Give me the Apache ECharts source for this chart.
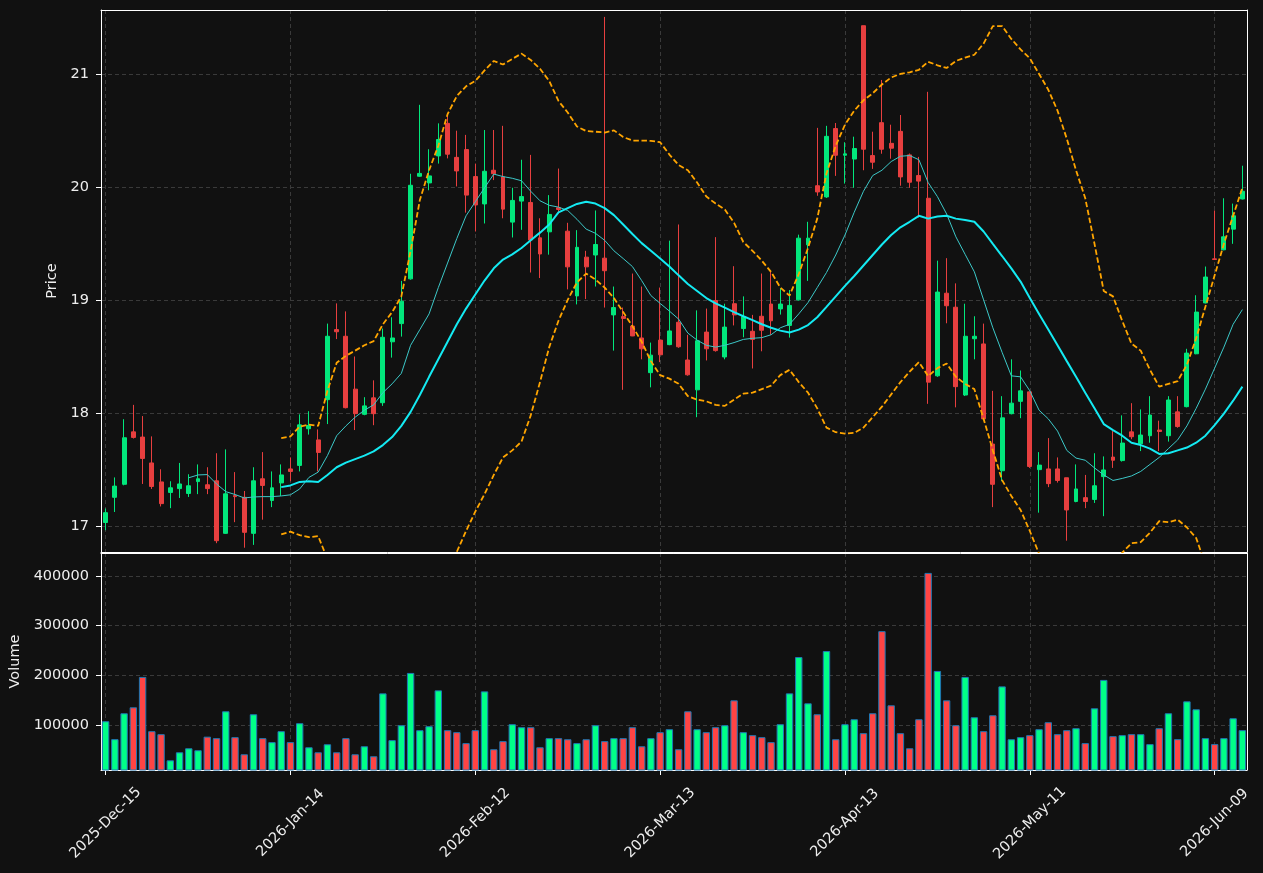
<!DOCTYPE html>
<html>
<head>
<meta charset="utf-8">
<script src="https://cdn.jsdelivr.net/npm/echarts@6/dist/echarts.min.js"></script>
<style>
html, body { margin: 0; padding: 0; background: #111111; }
#chart { width: 1263px; height: 873px; }
</style>
</head>
<body>
<div id="chart"></div>
<script>
// trading days shown on the category axis
const dates = [
	'2025-Dec-15', '2025-Dec-16', '2025-Dec-17', '2025-Dec-18', '2025-Dec-19', '2025-Dec-22', '2025-Dec-23', '2025-Dec-24',
	'2025-Dec-26', '2025-Dec-29', '2025-Dec-30', '2025-Dec-31', '2026-Jan-02', '2026-Jan-05', '2026-Jan-06', '2026-Jan-07',
	'2026-Jan-08', '2026-Jan-09', '2026-Jan-12', '2026-Jan-13', '2026-Jan-14', '2026-Jan-15', '2026-Jan-16', '2026-Jan-20',
	'2026-Jan-21', '2026-Jan-22', '2026-Jan-23', '2026-Jan-26', '2026-Jan-27', '2026-Jan-28', '2026-Jan-29', '2026-Jan-30',
	'2026-Feb-02', '2026-Feb-03', '2026-Feb-04', '2026-Feb-05', '2026-Feb-06', '2026-Feb-09', '2026-Feb-10', '2026-Feb-11',
	'2026-Feb-12', '2026-Feb-13', '2026-Feb-17', '2026-Feb-18', '2026-Feb-19', '2026-Feb-20', '2026-Feb-23', '2026-Feb-24',
	'2026-Feb-25', '2026-Feb-26', '2026-Feb-27', '2026-Mar-02', '2026-Mar-03', '2026-Mar-04', '2026-Mar-05', '2026-Mar-06',
	'2026-Mar-09', '2026-Mar-10', '2026-Mar-11', '2026-Mar-12', '2026-Mar-13', '2026-Mar-16', '2026-Mar-17', '2026-Mar-18',
	'2026-Mar-19', '2026-Mar-20', '2026-Mar-23', '2026-Mar-24', '2026-Mar-25', '2026-Mar-26', '2026-Mar-27', '2026-Mar-30',
	'2026-Mar-31', '2026-Apr-01', '2026-Apr-02', '2026-Apr-06', '2026-Apr-07', '2026-Apr-08', '2026-Apr-09', '2026-Apr-10',
	'2026-Apr-13', '2026-Apr-14', '2026-Apr-15', '2026-Apr-16', '2026-Apr-17', '2026-Apr-20', '2026-Apr-21', '2026-Apr-22',
	'2026-Apr-23', '2026-Apr-24', '2026-Apr-27', '2026-Apr-28', '2026-Apr-29', '2026-Apr-30', '2026-May-01', '2026-May-04',
	'2026-May-05', '2026-May-06', '2026-May-07', '2026-May-08', '2026-May-11', '2026-May-12', '2026-May-13', '2026-May-14',
	'2026-May-15', '2026-May-18', '2026-May-19', '2026-May-20', '2026-May-21', '2026-May-22', '2026-May-26', '2026-May-27',
	'2026-May-28', '2026-May-29', '2026-Jun-01', '2026-Jun-02', '2026-Jun-03', '2026-Jun-04', '2026-Jun-05', '2026-Jun-08',
	'2026-Jun-09', '2026-Jun-10', '2026-Jun-11', '2026-Jun-12'
]

const opens = [
	17.031, 17.254, 17.369, 17.833, 17.787, 17.558, 17.390, 17.297, 17.331, 17.288,
	17.393, 17.365, 17.400, 16.935, 17.269, 17.254, 16.935, 17.418, 17.226, 17.381,
	17.505, 17.536, 17.861, 17.762, 18.118, 18.738, 18.679, 18.211, 17.988, 18.134,
	18.091, 18.630, 18.791, 19.187, 20.095, 20.036, 20.275, 20.563, 20.262, 20.331,
	20.092, 19.850, 20.148, 20.089, 19.689, 19.875, 19.863, 19.550, 19.603, 19.816,
	19.609, 19.036, 19.379, 19.398, 19.370, 18.868, 18.853, 18.769, 18.664, 18.357,
	18.645, 18.605, 18.803, 18.469, 18.205, 18.716, 18.995, 18.496, 18.967, 18.747,
	18.723, 18.856, 18.964, 18.921, 18.775, 19.001, 19.488, 20.011, 19.912, 20.517,
	20.281, 20.247, 21.427, 20.278, 20.569, 20.386, 20.492, 20.284, 20.101, 19.900,
	18.329, 19.060, 18.936, 18.159, 18.657, 18.611, 17.725, 17.489, 17.994, 18.103,
	18.187, 17.499, 17.505, 17.505, 17.427, 17.217, 17.251, 17.235, 17.437, 17.610,
	17.579, 17.833, 17.728, 17.799, 17.849, 17.799, 18.010, 18.056, 18.524, 18.974,
	19.364, 19.444, 19.627, 19.894
]

const closes = [
	17.118, 17.353, 17.781, 17.784, 17.598, 17.350, 17.198, 17.338, 17.372, 17.356,
	17.418, 17.331, 16.870, 17.285, 17.260, 16.944, 17.400, 17.359, 17.338, 17.452,
	17.483, 17.895, 17.889, 17.651, 18.679, 18.719, 18.047, 17.994, 18.063, 17.994,
	18.670, 18.664, 18.989, 20.015, 20.120, 20.098, 20.420, 20.290, 20.142, 19.928,
	19.841, 20.139, 20.117, 19.804, 19.881, 19.915, 19.531, 19.407, 19.757, 19.801,
	19.293, 19.466, 19.293, 19.491, 19.259, 18.933, 18.837, 18.682, 18.568, 18.512,
	18.515, 18.726, 18.586, 18.338, 18.639, 18.568, 18.552, 18.760, 18.868, 18.853,
	18.651, 18.732, 18.816, 18.964, 18.952, 19.547, 19.547, 19.956, 20.448, 20.281,
	20.293, 20.340, 20.334, 20.219, 20.334, 20.343, 20.089, 20.042, 20.052, 18.273,
	19.070, 18.949, 18.233, 18.679, 18.679, 17.948, 17.369, 17.957, 18.087, 18.196,
	17.527, 17.539, 17.375, 17.403, 17.142, 17.328, 17.217, 17.356, 17.496, 17.582,
	17.734, 17.790, 17.805, 17.982, 17.836, 18.115, 17.880, 18.530, 18.893, 19.203,
	19.358, 19.559, 19.745, 19.962
]

const highs = [
	17.155, 17.430, 17.945, 18.072, 17.973, 17.793, 17.502, 17.396, 17.558, 17.458,
	17.545, 17.520, 17.644, 17.678, 17.477, 17.310, 17.520, 17.654, 17.483, 17.545,
	17.607, 17.988, 18.016, 17.855, 18.791, 18.970, 18.899, 18.500, 18.140, 18.289,
	18.747, 18.847, 19.169, 20.117, 20.727, 20.334, 20.563, 20.634, 20.498, 20.461,
	20.207, 20.504, 20.504, 20.541, 19.993, 20.241, 20.284, 19.723, 19.928, 20.163,
	19.683, 19.618, 19.435, 19.792, 21.505, 19.119, 18.933, 19.234, 19.119, 18.623,
	19.110, 19.525, 19.668, 18.692, 18.908, 18.924, 19.556, 18.967, 19.299, 19.032,
	18.868, 19.234, 19.249, 19.104, 19.088, 19.578, 19.692, 20.523, 20.541, 20.566,
	20.396, 20.445, 21.427, 20.489, 20.947, 20.551, 20.637, 20.296, 20.266, 20.842,
	19.348, 19.370, 19.147, 18.967, 18.856, 18.791, 18.196, 18.149, 18.475, 18.376,
	18.187, 17.654, 17.778, 17.607, 17.427, 17.545, 17.452, 17.644, 17.616, 17.840,
	17.979, 18.087, 18.032, 18.149, 17.932, 18.149, 18.149, 18.568, 19.042, 19.296,
	19.792, 19.900, 19.853, 20.188
]

const lows = [
	16.963, 17.124, 17.360, 17.774, 17.372, 17.328, 17.173, 17.158, 17.248, 17.257,
	17.282, 17.282, 16.848, 16.930, 17.034, 16.808, 16.833, 17.056, 17.167, 17.266,
	17.396, 17.483, 17.809, 17.483, 17.902, 18.654, 18.041, 17.849, 17.980, 17.892,
	18.063, 18.490, 18.676, 19.180, 20.090, 19.971, 20.207, 20.253, 20.005, 19.773,
	19.606, 19.677, 20.061, 19.723, 19.553, 19.621, 19.243, 19.194, 19.401, 19.776,
	19.094, 18.961, 19.008, 19.119, 18.933, 18.552, 18.205, 18.680, 18.475, 18.227,
	18.450, 18.600, 18.577, 18.330, 17.963, 18.465, 18.543, 18.475, 18.775, 18.670,
	18.394, 18.546, 18.692, 18.871, 18.667, 18.995, 19.169, 19.922, 19.903, 20.098,
	20.030, 19.993, 20.148, 20.160, 20.294, 20.250, 20.011, 19.993, 19.730, 18.081,
	18.320, 18.794, 18.050, 18.150, 18.475, 17.940, 17.167, 17.396, 17.988, 17.954,
	17.514, 17.118, 17.344, 17.384, 16.870, 17.210, 17.158, 17.204, 17.087, 17.514,
	17.570, 17.768, 17.663, 17.737, 17.663, 17.747, 17.870, 18.050, 18.520, 18.970,
	19.355, 19.440, 19.497, 19.890
]

const volumes = [
	108000, 72000, 124000, 136000, 197000, 88000, 82000, 29500, 45600, 53700,
	49700, 77000, 74000, 128000, 76000, 41600, 122000, 74000, 66000, 88000,
	66000, 104000, 55700, 45600, 61700, 45600, 74000, 41600, 57700, 37600,
	164000, 70000, 100000, 205000, 90000, 98000, 170000, 90000, 86000, 64000,
	90000, 168000, 51700, 68000, 102000, 96000, 96000, 55700, 74000, 74000,
	71800, 64000, 71800, 100000, 68000, 74000, 74000, 96000, 57700, 74000,
	86000, 92000, 51700, 128000, 92000, 86000, 96000, 100000, 150000, 86000,
	80000, 76000, 66000, 102000, 164000, 237000, 144000, 122000, 249000, 71800,
	102000, 112000, 84000, 124000, 289000, 140000, 84000, 53700, 112000, 406000,
	209000, 150000, 100000, 197000, 116000, 88000, 120000, 178000, 71800, 76000,
	80000, 92000, 106000, 82000, 90000, 94000, 64000, 134000, 191000, 78000,
	80000, 82000, 82000, 62000, 94000, 124000, 72000, 148000, 132000, 74000,
	62000, 74000, 114000, 90000
]

// 10-day average, first value on day 10
const ma10 = [
	17.427, 17.452, 17.455, 17.372, 17.304, 17.279, 17.248, 17.257, 17.260, 17.260,
	17.266, 17.276, 17.328, 17.430, 17.477, 17.623, 17.799, 17.886, 17.963, 18.025,
	18.072, 18.180, 18.258, 18.351, 18.599, 18.738, 18.877, 19.110, 19.327, 19.544,
	19.745, 19.869, 19.993, 20.114, 20.092, 20.077, 20.055, 19.962, 19.878, 19.838,
	19.822, 19.792, 19.714, 19.627, 19.590, 19.528, 19.435, 19.367, 19.296, 19.172,
	19.039, 18.970, 18.902, 18.831, 18.707, 18.645, 18.599, 18.583, 18.599, 18.623,
	18.651, 18.661, 18.667, 18.692, 18.754, 18.785, 18.877, 18.977, 19.110, 19.243,
	19.398, 19.575, 19.776, 19.962, 20.101, 20.148, 20.225, 20.272, 20.278, 20.241,
	20.039, 19.915, 19.761, 19.559, 19.404, 19.249, 19.001, 18.754, 18.537, 18.329,
	18.320, 18.196, 18.025, 17.948, 17.840, 17.669, 17.601, 17.582, 17.514, 17.452,
	17.403, 17.421, 17.443, 17.483, 17.545, 17.607, 17.685, 17.762, 17.886, 18.041,
	18.211, 18.397, 18.583, 18.785, 18.915
]

// 20-day average and its bands, first value on day 20
const ma20 = [
	17.344, 17.359, 17.390, 17.396, 17.390, 17.452, 17.520, 17.561, 17.592, 17.623,
	17.660, 17.716, 17.787, 17.886, 18.010, 18.159, 18.320, 18.475, 18.630, 18.785,
	18.924, 19.048, 19.172, 19.280, 19.358, 19.404, 19.460, 19.528, 19.596, 19.668,
	19.776, 19.813, 19.850, 19.869, 19.853, 19.813, 19.751, 19.668, 19.584, 19.503,
	19.435, 19.367, 19.296, 19.218, 19.141, 19.079, 19.017, 18.970, 18.933, 18.893,
	18.856, 18.822, 18.785, 18.754, 18.729, 18.713, 18.738, 18.778, 18.847, 18.939,
	19.032, 19.125, 19.212, 19.305, 19.398, 19.491, 19.575, 19.643, 19.692, 19.745,
	19.720, 19.739, 19.745, 19.720, 19.708, 19.692, 19.606, 19.497, 19.389, 19.280,
	19.163, 19.017, 18.877, 18.738, 18.599, 18.459, 18.320, 18.180, 18.041, 17.902,
	17.849, 17.799, 17.737, 17.716, 17.685, 17.638, 17.644, 17.669, 17.694, 17.737,
	17.799, 17.892, 17.994, 18.109, 18.233
]

const bandUpper = [
	17.778, 17.793, 17.880, 17.898, 17.886, 18.196, 18.444, 18.506, 18.552, 18.599,
	18.636, 18.785, 18.893, 19.032, 19.435, 19.884, 20.148, 20.365, 20.644, 20.805,
	20.891, 20.938, 21.031, 21.115, 21.084, 21.133, 21.180, 21.124, 21.046, 20.938,
	20.761, 20.659, 20.535, 20.495, 20.489, 20.482, 20.501, 20.442, 20.411, 20.411,
	20.408, 20.396, 20.287, 20.194, 20.148, 20.039, 19.915, 19.853, 19.801, 19.683,
	19.513, 19.435, 19.348, 19.249, 19.110, 19.039, 19.230, 19.460, 19.720, 20.120,
	20.365, 20.551, 20.675, 20.767, 20.829, 20.907, 20.969, 21.000, 21.015, 21.037,
	21.108, 21.077, 21.053, 21.115, 21.145, 21.170, 21.269, 21.424, 21.424, 21.310,
	21.217, 21.139, 21.000, 20.860, 20.675, 20.427, 20.148, 19.900, 19.497, 19.079,
	19.032, 18.815, 18.614, 18.552, 18.382, 18.233, 18.258, 18.283, 18.428, 18.661,
	18.940, 19.218, 19.497, 19.745, 19.993
]

const bandLower = [
	16.926, 16.950, 16.919, 16.901, 16.910, 16.709, 16.597, 16.616, 16.631, 16.647,
	16.684, 16.647, 16.681, 16.740, 16.585, 16.433, 16.492, 16.585, 16.616, 16.771,
	16.956, 17.127, 17.282, 17.452, 17.607, 17.669, 17.747, 17.979, 18.273, 18.583,
	18.816, 19.001, 19.156, 19.234, 19.181, 19.110, 19.017, 18.893, 18.769, 18.630,
	18.459, 18.335, 18.304, 18.258, 18.149, 18.118, 18.103, 18.072, 18.063, 18.118,
	18.171, 18.180, 18.211, 18.242, 18.335, 18.382, 18.273, 18.180, 18.041, 17.871,
	17.830, 17.818, 17.824, 17.871, 17.963, 18.056, 18.165, 18.273, 18.366, 18.450,
	18.326, 18.397, 18.438, 18.320, 18.258, 18.211, 17.948, 17.669, 17.406, 17.266,
	17.142, 16.956, 16.755, 16.616, 16.523, 16.492, 16.492, 16.461, 16.585, 16.724,
	16.665, 16.764, 16.848, 16.857, 16.941, 17.043, 17.034, 17.056, 16.987, 16.894,
	16.659, 16.566, 16.492, 16.473, 16.473
]

const priceTicks = [17, 18, 19, 20, 21]
const volumeTicks = [100000, 200000, 300000, 400000]
const priceRange = [16.77, 21.566]
const volumeRange = [10000, 446000]

const upColor = '#00ff88'
const downColor = '#ff4444'
const textColor = '#eeeeee'
const frame = { show: true, onZero: false, lineStyle: { color: '#ffffff', width: 1 } }
const gridLine = { color: '#3a3a3a', width: 1, type: [4, 3] }
const fontFamily = 'DejaVu Sans'

function pad(values, count) {
	return new Array(count).fill('-').concat(values)
}

// plain axis used only to draw the top / right edge of a panel
function edgeX(gridIndex) {
	return {
		type: 'category', gridIndex: gridIndex, data: dates, position: 'top',
		axisLine: frame, axisTick: { show: false }, axisLabel: { show: false }, splitLine: { show: false }
	}
}
function edgeY(gridIndex, range) {
	return {
		type: 'value', gridIndex: gridIndex, min: range[0], max: range[1], position: 'right',
		axisLine: frame, axisTick: { show: false }, axisLabel: { show: false }, splitLine: { show: false }
	}
}

const candles = dates.map((d, i) => [opens[i], closes[i], lows[i], highs[i]])
const volumeBars = volumes.map((v, i) => ({
	value: v,
	itemStyle: { color: closes[i] >= opens[i] ? upColor : downColor }
}))

const chart = echarts.init(document.getElementById('chart'))

chart.setOption({
	animation: false,
	backgroundColor: '#111111',
	textStyle: { fontFamily: fontFamily },
	grid: [
		{ left: 101, width: 1146, top: 10, height: 542, outerBoundsMode: 'none', containLabel: false },
		{ left: 101, width: 1146, top: 553, height: 217, outerBoundsMode: 'none', containLabel: false }
	],
	xAxis: [
		{
			type: 'category', gridIndex: 0, data: dates, boundaryGap: true,
			axisLine: frame, axisTick: { show: false }, axisLabel: { show: false },
			splitLine: { show: true, interval: 19, alignWithLabel: true, lineStyle: gridLine }
		},
		{
			type: 'category', gridIndex: 1, data: dates, boundaryGap: true,
			axisLine: frame,
			axisTick: { show: true, interval: 19, alignWithLabel: true, length: 5, lineStyle: { color: '#ffffff' } },
			axisLabel: {
				interval: 19, rotate: 45, align: 'center', verticalAlign: 'middle', margin: 53,
				color: textColor, fontSize: 14.5, fontFamily: fontFamily
			},
			splitLine: { show: true, interval: 19, alignWithLabel: true, lineStyle: gridLine }
		},
		edgeX(0),
		edgeX(1)
	],
	yAxis: [
		{
			type: 'value', gridIndex: 0, min: priceRange[0], max: priceRange[1],
			name: 'Price', nameLocation: 'middle', nameGap: 31, nameRotate: 90,
			nameTextStyle: { color: textColor, fontSize: 14.5, fontFamily: fontFamily },
			axisLine: frame,
			axisTick: { show: true, length: 5, lineStyle: { color: '#ffffff' }, customValues: priceTicks },
			axisLabel: { color: textColor, fontSize: 14.5, margin: 12, customValues: priceTicks },
			splitLine: { show: true, lineStyle: gridLine }
		},
		{
			type: 'value', gridIndex: 1, min: volumeRange[0], max: volumeRange[1],
			name: 'Volume', nameLocation: 'middle', nameGap: 72, nameRotate: 90,
			nameTextStyle: { color: textColor, fontSize: 14.5, fontFamily: fontFamily },
			axisLine: frame,
			axisTick: { show: true, length: 5, lineStyle: { color: '#ffffff' }, customValues: volumeTicks },
			axisLabel: {
				color: textColor, fontSize: 14.5, margin: 12, customValues: volumeTicks,
				formatter: v => String(v)
			},
			splitLine: { show: true, lineStyle: gridLine }
		},
		edgeY(0, priceRange),
		edgeY(1, volumeRange)
	],
	series: [
		{
			name: 'Candles', type: 'candlestick', xAxisIndex: 0, yAxisIndex: 0,
			data: candles, barWidth: 4.4,
			itemStyle: {
				color: '#02e77c', color0: '#e73f3f',
				borderColor: '#02e77c', borderColor0: '#e73f3f', borderWidth: 1
			}
		},
		{
			name: 'MA10', type: 'line', xAxisIndex: 0, yAxisIndex: 0, data: pad(ma10, 9),
			symbol: 'none', lineStyle: { color: '#3cc8c8', width: 1 }
		},
		{
			name: 'MA20', type: 'line', xAxisIndex: 0, yAxisIndex: 0, data: pad(ma20, 19),
			symbol: 'none', lineStyle: { color: '#14eaf2', width: 2 }
		},
		{
			name: 'Upper', type: 'line', xAxisIndex: 0, yAxisIndex: 0, data: pad(bandUpper, 19),
			symbol: 'none', lineStyle: { color: '#ffa500', width: 1.8, type: [5.5, 2.6] }
		},
		{
			name: 'Lower', type: 'line', xAxisIndex: 0, yAxisIndex: 0, data: pad(bandLower, 19),
			symbol: 'none', lineStyle: { color: '#ffa500', width: 1.8, type: [5.5, 2.6] }
		},
		{
			name: 'Volume', type: 'bar', xAxisIndex: 1, yAxisIndex: 1,
			data: volumeBars, barWidth: '80%',
			itemStyle: { borderColor: '#1f77b4', borderWidth: 1 }
		}
	]
})
</script>
</body>
</html>
